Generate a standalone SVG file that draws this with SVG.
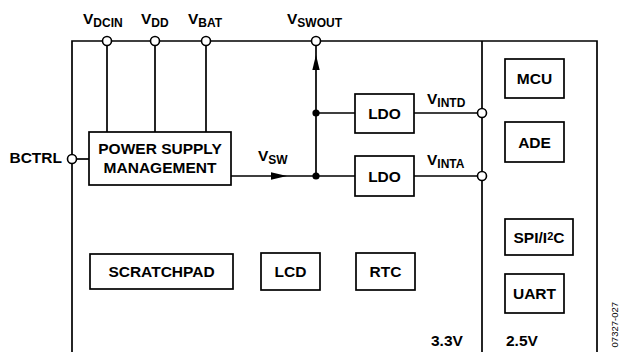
<svg xmlns="http://www.w3.org/2000/svg" width="620" height="352" viewBox="0 0 620 352">
<style>
.ln{stroke:#000;stroke-width:1.7;fill:none}
.box{stroke:#000;stroke-width:1.7;fill:#fff}
.pin{stroke:#000;stroke-width:1.6;fill:#fff}
.dot{fill:#000}
.t{font-family:"Liberation Sans",Arial,sans-serif;font-weight:bold;font-size:15.5px;fill:#000}
.c{text-anchor:middle}
.sub{font-size:12px}
.id{font-family:"Liberation Sans",Arial,sans-serif;font-size:9.5px;fill:#000}
</style>
<rect width="620" height="352" fill="#fff"/>
<g id="frame">
<path class="ln" d="M72,352 V41 H597 V352 M482,41 V352"/>
</g>
<g id="connectors">
<path class="ln" d="M107,45 V132 M155,45 V132 M206,45 V132"/>
<path class="ln" d="M76.5,159 H89"/>
<path class="ln" d="M231,176 H355 M316,176 V45.5 M316,113 H355 M414,113 H477.5 M414,176 H477.5"/>
<polygon class="dot" points="271,172.3 287,176 271,179.7"/>
<polygon class="dot" points="316,55 312.3,70 319.7,70"/>
<circle class="dot" cx="316" cy="176" r="3.6"/>
<circle class="dot" cx="316" cy="113" r="3.6"/>
</g>
<g id="pins">
<circle class="pin" cx="107" cy="41" r="4.5"/>
<circle class="pin" cx="155" cy="41" r="4.5"/>
<circle class="pin" cx="206" cy="41" r="4.5"/>
<circle class="pin" cx="316" cy="41" r="4.5"/>
<circle class="pin" cx="72" cy="159" r="4.5"/>
<circle class="pin" cx="482" cy="113" r="4.5"/>
<circle class="pin" cx="482" cy="176" r="4.5"/>
</g>
<g id="labels">
<text class="t" x="83" y="23.5">V<tspan class="sub" dy="3.4">DCIN</tspan></text>
<text class="t" x="141" y="23.5">V<tspan class="sub" dy="3.4">DD</tspan></text>
<text class="t" x="188" y="23.5">V<tspan class="sub" dy="3.4">BAT</tspan></text>
<text class="t" x="287" y="23.5">V<tspan class="sub" dy="3.4">SWOUT</tspan></text>
<text class="t" x="62" y="163.3" text-anchor="end">BCTRL</text>
<text class="t" x="258" y="160.7">V<tspan class="sub" dy="3.4">SW</tspan></text>
<text class="t" x="427" y="104">V<tspan class="sub" dy="3">INTD</tspan></text>
<text class="t" x="427" y="164.5">V<tspan class="sub" dy="3">INTA</tspan></text>
<text class="t" x="431" y="346">3.3V</text>
<text class="t" x="506" y="346">2.5V</text>
<text class="id" transform="translate(617.5,302) rotate(-90)" text-anchor="end">07327-027</text>
</g>
<g id="psm">
<rect class="box" x="89" y="132" width="142" height="53"/>
<text class="t c" x="160" y="154.3">POWER SUPPLY</text>
<text class="t c" x="160" y="172.7">MANAGEMENT</text>
</g>
<g id="ldo1">
<rect class="box" x="355" y="94" width="59" height="39"/>
<text class="t c" x="384.5" y="119">LDO</text>
</g>
<g id="ldo2">
<rect class="box" x="355" y="156" width="59" height="40"/>
<text class="t c" x="384.5" y="181.5">LDO</text>
</g>
<g id="mcu">
<rect class="box" x="505" y="59" width="59" height="39"/>
<text class="t c" x="534.5" y="84">MCU</text>
</g>
<g id="ade">
<rect class="box" x="505" y="122" width="59" height="40"/>
<text class="t c" x="534.5" y="147.5">ADE</text>
</g>
<g id="spi">
<rect class="box" x="505" y="219" width="68" height="36"/>
<text class="t c" x="539" y="242.5">SPI/I<tspan font-size="11" dy="-3">2</tspan><tspan dy="3">C</tspan></text>
</g>
<g id="uart">
<rect class="box" x="505" y="274" width="59" height="39"/>
<text class="t c" x="534.5" y="299">UART</text>
</g>
<g id="scratchpad">
<rect class="box" x="90" y="254" width="143" height="35"/>
<text class="t c" x="161.5" y="277">SCRATCHPAD</text>
</g>
<g id="lcd">
<rect class="box" x="261" y="253" width="59" height="37"/>
<text class="t c" x="290.5" y="277">LCD</text>
</g>
<g id="rtc">
<rect class="box" x="356" y="253" width="59" height="37"/>
<text class="t c" x="385.5" y="277">RTC</text>
</g>
</svg>
